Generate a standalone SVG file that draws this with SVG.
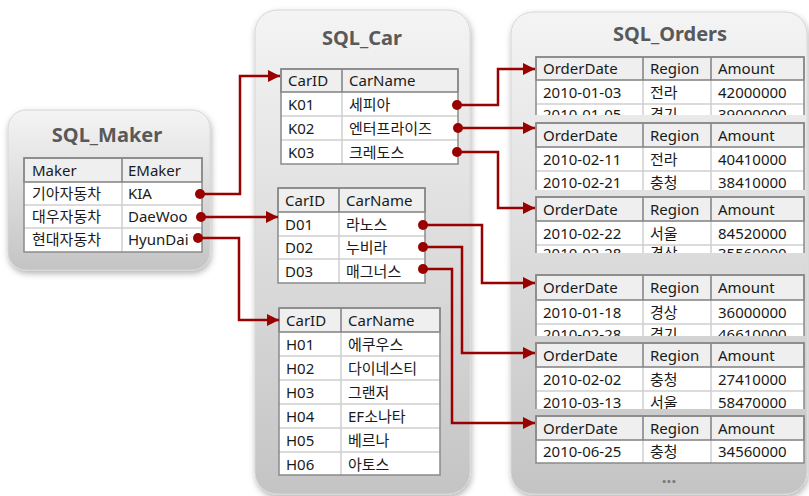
<svg xmlns="http://www.w3.org/2000/svg" width="809" height="496" viewBox="0 0 809 496">
<defs>
<linearGradient id="pg" x1="0" y1="0" x2="0" y2="1">
<stop offset="0" stop-color="#f4f4f4"/>
<stop offset="1" stop-color="#c4c4c4"/>
</linearGradient>
<filter id="sh" x="-10%" y="-10%" width="120%" height="120%">
<feDropShadow dx="1" dy="3" stdDeviation="3" flood-color="#000" flood-opacity="0.3"/>
</filter>
<marker id="ar" viewBox="0 0 12 12" refX="12" refY="6" markerWidth="12" markerHeight="12" markerUnits="userSpaceOnUse" orient="auto">
<path d="M0,0 L12,6 L0,12 Z" fill="#990000"/>
</marker>
<clipPath id="c1"><rect x="530" y="50" width="280" height="65"/></clipPath>
<clipPath id="c2"><rect x="530" y="118" width="280" height="72"/></clipPath>
<clipPath id="c3"><rect x="530" y="192" width="280" height="61"/></clipPath>
<clipPath id="c4"><rect x="530" y="270" width="280" height="66"/></clipPath>
<clipPath id="c5"><rect x="530" y="338" width="280" height="71"/></clipPath>
</defs>
<style>
.panel{fill:url(#pg);stroke:#d6d6d6;stroke-width:1;filter:url(#sh)}
.title{font-family:"Noto Sans","Noto Sans CJK KR",sans-serif;font-size:20px;font-weight:bold;fill:#595959;text-anchor:middle}
.t{font-family:"Noto Sans","Noto Sans CJK KR",sans-serif;font-size:15px;fill:#1a1a1a}
.body{fill:#ffffff}
.hd{fill:#efefef;stroke:#808080;stroke-width:1.5}
.g{stroke:#cfcfcf;stroke-width:1.5}
.fr{fill:none;stroke:#8a8a8a;stroke-width:1.5}
.hv{stroke:#808080;stroke-width:1.5}
.con path{fill:none;stroke:#990000;stroke-width:2.5;marker-end:url(#ar)}
.con circle{fill:#990000}
</style>

<g id="SQL_Maker">
<rect class="panel" x="8" y="110" width="202" height="160" rx="18"/>
<text class="title" x="107" y="142">SQL_Maker</text>
<rect class="body" x="24" y="158" width="178" height="94"/>
<line class="g" x1="24" y1="205" x2="202" y2="205"/>
<line class="g" x1="24" y1="228" x2="202" y2="228"/>
<line class="g" x1="122" y1="182" x2="122" y2="252"/>
<rect class="hd" x="24" y="158" width="178" height="24"/>
<line class="hv" x1="122" y1="158" x2="122" y2="182"/>
<rect class="fr" x="24" y="158" width="178" height="94"/>
<text class="t" x="32" y="176">Maker</text><text class="t" x="128" y="176">EMaker</text>
<text class="t" x="32" y="199">기아자동차</text><text class="t" x="128" y="199">KIA</text>
<text class="t" x="32" y="222">대우자동차</text><text class="t" x="128" y="222">DaeWoo</text>
<text class="t" x="32" y="245">현대자동차</text><text class="t" x="128" y="245">HyunDai</text>
</g>

<g id="SQL_Car">
<rect class="panel" x="255" y="10" width="215" height="484" rx="22"/>
<text class="title" x="362" y="45">SQL_Car</text>
<g id="car_K">
<rect class="body" x="281" y="69" width="177" height="95"/>
<line class="g" x1="281" y1="116" x2="458" y2="116"/>
<line class="g" x1="281" y1="140" x2="458" y2="140"/>
<line class="g" x1="342" y1="92" x2="342" y2="164"/>
<rect class="hd" x="281" y="69" width="177" height="23"/>
<line class="hv" x1="342" y1="69" x2="342" y2="92"/>
<rect class="fr" x="281" y="69" width="177" height="95"/>
<text class="t" x="288" y="86">CarID</text><text class="t" x="349" y="86">CarName</text>
<text class="t" x="288" y="110">K01</text><text class="t" x="349" y="110">세피아</text>
<text class="t" x="288" y="134">K02</text><text class="t" x="349" y="134">엔터프라이즈</text>
<text class="t" x="288" y="158">K03</text><text class="t" x="349" y="158">크레도스</text>
</g>
<g id="car_D">
<rect class="body" x="278" y="188" width="147" height="95"/>
<line class="g" x1="278" y1="236" x2="425" y2="236"/>
<line class="g" x1="278" y1="259" x2="425" y2="259"/>
<line class="g" x1="339" y1="212" x2="339" y2="283"/>
<rect class="hd" x="278" y="188" width="147" height="24"/>
<line class="hv" x1="339" y1="188" x2="339" y2="212"/>
<rect class="fr" x="278" y="188" width="147" height="95"/>
<text class="t" x="285" y="206">CarID</text><text class="t" x="346" y="206">CarName</text>
<text class="t" x="285" y="230">D01</text><text class="t" x="346" y="230">라노스</text>
<text class="t" x="285" y="253">D02</text><text class="t" x="346" y="253">누비라</text>
<text class="t" x="285" y="277">D03</text><text class="t" x="346" y="277">매그너스</text>
</g>
<g id="car_H">
<rect class="body" x="279" y="308" width="161" height="167"/>
<line class="g" x1="279" y1="356" x2="440" y2="356"/>
<line class="g" x1="279" y1="380" x2="440" y2="380"/>
<line class="g" x1="279" y1="404" x2="440" y2="404"/>
<line class="g" x1="279" y1="428" x2="440" y2="428"/>
<line class="g" x1="279" y1="452" x2="440" y2="452"/>
<line class="g" x1="341" y1="332" x2="341" y2="475"/>
<rect class="hd" x="279" y="308" width="161" height="24"/>
<line class="hv" x1="341" y1="308" x2="341" y2="332"/>
<rect class="fr" x="279" y="308" width="161" height="167"/>
<text class="t" x="286" y="326">CarID</text><text class="t" x="348" y="326">CarName</text>
<text class="t" x="286" y="350">H01</text><text class="t" x="348" y="350">에쿠우스</text>
<text class="t" x="286" y="374">H02</text><text class="t" x="348" y="374">다이네스티</text>
<text class="t" x="286" y="398">H03</text><text class="t" x="348" y="398">그랜저</text>
<text class="t" x="286" y="422">H04</text><text class="t" x="348" y="422">EF소나타</text>
<text class="t" x="286" y="446">H05</text><text class="t" x="348" y="446">베르나</text>
<text class="t" x="286" y="470">H06</text><text class="t" x="348" y="470">아토스</text>
</g>
</g>

<g id="SQL_Orders">
<rect class="panel" x="511" y="12" width="296" height="482" rx="22"/>
<text class="title" x="670" y="41">SQL_Orders</text>

<g id="orders_1" clip-path="url(#c1)">
<rect class="body" x="536" y="57" width="268" height="71"/>
<line class="g" x1="536" y1="104" x2="804" y2="104"/>
<line class="g" x1="643" y1="80" x2="643" y2="128"/>
<line class="g" x1="711" y1="80" x2="711" y2="128"/>
<rect class="hd" x="536" y="57" width="268" height="23"/>
<line class="hv" x1="643" y1="57" x2="643" y2="80"/>
<line class="hv" x1="711" y1="57" x2="711" y2="80"/>
<rect class="fr" x="536" y="57" width="268" height="71"/>
<text class="t" x="543" y="74">OrderDate</text><text class="t" x="650" y="74">Region</text><text class="t" x="718" y="74">Amount</text>
<text class="t" x="543" y="98">2010-01-03</text><text class="t" x="650" y="98">전라</text><text class="t" x="718" y="98">42000000</text>
<text class="t" x="543" y="120">2010-01-05</text><text class="t" x="650" y="120">경기</text><text class="t" x="718" y="120">39000000</text>
</g>

<g id="orders_2" clip-path="url(#c2)">
<rect class="body" x="536" y="123" width="268" height="72"/>
<line class="g" x1="536" y1="171" x2="804" y2="171"/>
<line class="g" x1="643" y1="147" x2="643" y2="195"/>
<line class="g" x1="711" y1="147" x2="711" y2="195"/>
<rect class="hd" x="536" y="123" width="268" height="24"/>
<line class="hv" x1="643" y1="123" x2="643" y2="147"/>
<line class="hv" x1="711" y1="123" x2="711" y2="147"/>
<rect class="fr" x="536" y="123" width="268" height="72"/>
<text class="t" x="543" y="141">OrderDate</text><text class="t" x="650" y="141">Region</text><text class="t" x="718" y="141">Amount</text>
<text class="t" x="543" y="165">2010-02-11</text><text class="t" x="650" y="165">전라</text><text class="t" x="718" y="165">40410000</text>
<text class="t" x="543" y="188">2010-02-21</text><text class="t" x="650" y="188">충청</text><text class="t" x="718" y="188">38410000</text>
</g>

<g id="orders_3" clip-path="url(#c3)">
<rect class="body" x="536" y="197" width="268" height="72"/>
<line class="g" x1="536" y1="245" x2="804" y2="245"/>
<line class="g" x1="643" y1="221" x2="643" y2="269"/>
<line class="g" x1="711" y1="221" x2="711" y2="269"/>
<rect class="hd" x="536" y="197" width="268" height="24"/>
<line class="hv" x1="643" y1="197" x2="643" y2="221"/>
<line class="hv" x1="711" y1="197" x2="711" y2="221"/>
<rect class="fr" x="536" y="197" width="268" height="72"/>
<text class="t" x="543" y="215">OrderDate</text><text class="t" x="650" y="215">Region</text><text class="t" x="718" y="215">Amount</text>
<text class="t" x="543" y="239">2010-02-22</text><text class="t" x="650" y="239">서울</text><text class="t" x="718" y="239">84520000</text>
<text class="t" x="543" y="259">2010-02-28</text><text class="t" x="650" y="259">경상</text><text class="t" x="718" y="259">35560000</text>
</g>

<g id="orders_4" clip-path="url(#c4)">
<rect class="body" x="536" y="275" width="268" height="73"/>
<line class="g" x1="536" y1="324" x2="804" y2="324"/>
<line class="g" x1="643" y1="300" x2="643" y2="348"/>
<line class="g" x1="711" y1="300" x2="711" y2="348"/>
<rect class="hd" x="536" y="275" width="268" height="25"/>
<line class="hv" x1="643" y1="275" x2="643" y2="300"/>
<line class="hv" x1="711" y1="275" x2="711" y2="300"/>
<rect class="fr" x="536" y="275" width="268" height="73"/>
<text class="t" x="543" y="293">OrderDate</text><text class="t" x="650" y="293">Region</text><text class="t" x="718" y="293">Amount</text>
<text class="t" x="543" y="318">2010-01-18</text><text class="t" x="650" y="318">경상</text><text class="t" x="718" y="318">36000000</text>
<text class="t" x="543" y="340">2010-02-28</text><text class="t" x="650" y="340">경기</text><text class="t" x="718" y="340">46610000</text>
</g>

<g id="orders_5" clip-path="url(#c5)">
<rect class="body" x="536" y="343" width="268" height="72"/>
<line class="g" x1="536" y1="391" x2="804" y2="391"/>
<line class="g" x1="643" y1="367" x2="643" y2="415"/>
<line class="g" x1="711" y1="367" x2="711" y2="415"/>
<rect class="hd" x="536" y="343" width="268" height="24"/>
<line class="hv" x1="643" y1="343" x2="643" y2="367"/>
<line class="hv" x1="711" y1="343" x2="711" y2="367"/>
<rect class="fr" x="536" y="343" width="268" height="72"/>
<text class="t" x="543" y="361">OrderDate</text><text class="t" x="650" y="361">Region</text><text class="t" x="718" y="361">Amount</text>
<text class="t" x="543" y="385">2010-02-02</text><text class="t" x="650" y="385">충청</text><text class="t" x="718" y="385">27410000</text>
<text class="t" x="543" y="408">2010-03-13</text><text class="t" x="650" y="408">서울</text><text class="t" x="718" y="408">58470000</text>
</g>

<g id="orders_6">
<rect class="body" x="536" y="416" width="268" height="47"/>
<line class="g" x1="643" y1="440" x2="643" y2="463"/>
<line class="g" x1="711" y1="440" x2="711" y2="463"/>
<rect class="hd" x="536" y="416" width="268" height="24"/>
<line class="hv" x1="643" y1="416" x2="643" y2="440"/>
<line class="hv" x1="711" y1="416" x2="711" y2="440"/>
<rect class="fr" x="536" y="416" width="268" height="47"/>
<text class="t" x="543" y="434">OrderDate</text><text class="t" x="650" y="434">Region</text><text class="t" x="718" y="434">Amount</text>
<text class="t" x="543" y="457">2010-06-25</text><text class="t" x="650" y="457">충청</text><text class="t" x="718" y="457">34560000</text>
</g>
<text x="669" y="483" font-family="Noto Sans, sans-serif" font-size="17" font-weight="bold" fill="#7a7a7a" text-anchor="middle">...</text>
</g>

<g id="connectors" class="con">
<path d="M200,194 H240 V76 H280"/>
<path d="M201,217 H278"/>
<path d="M198,238 H239 V320 H279"/>
<path d="M457,105 H498 V69 H535"/>
<path d="M458,128 H535"/>
<path d="M457,152 H498 V208 H535"/>
<path d="M423,225 H482 V283 H535"/>
<path d="M423,247 H462 V353 H535"/>
<path d="M423,269 H452 V423 H535"/>
<circle cx="200" cy="194" r="5"/>
<circle cx="201" cy="217" r="5"/>
<circle cx="198" cy="238" r="5"/>
<circle cx="457" cy="105" r="5"/>
<circle cx="458" cy="128" r="5"/>
<circle cx="457" cy="152" r="5"/>
<circle cx="423" cy="225" r="5"/>
<circle cx="423" cy="247" r="5"/>
<circle cx="423" cy="269" r="5"/>
</g>
</svg>
